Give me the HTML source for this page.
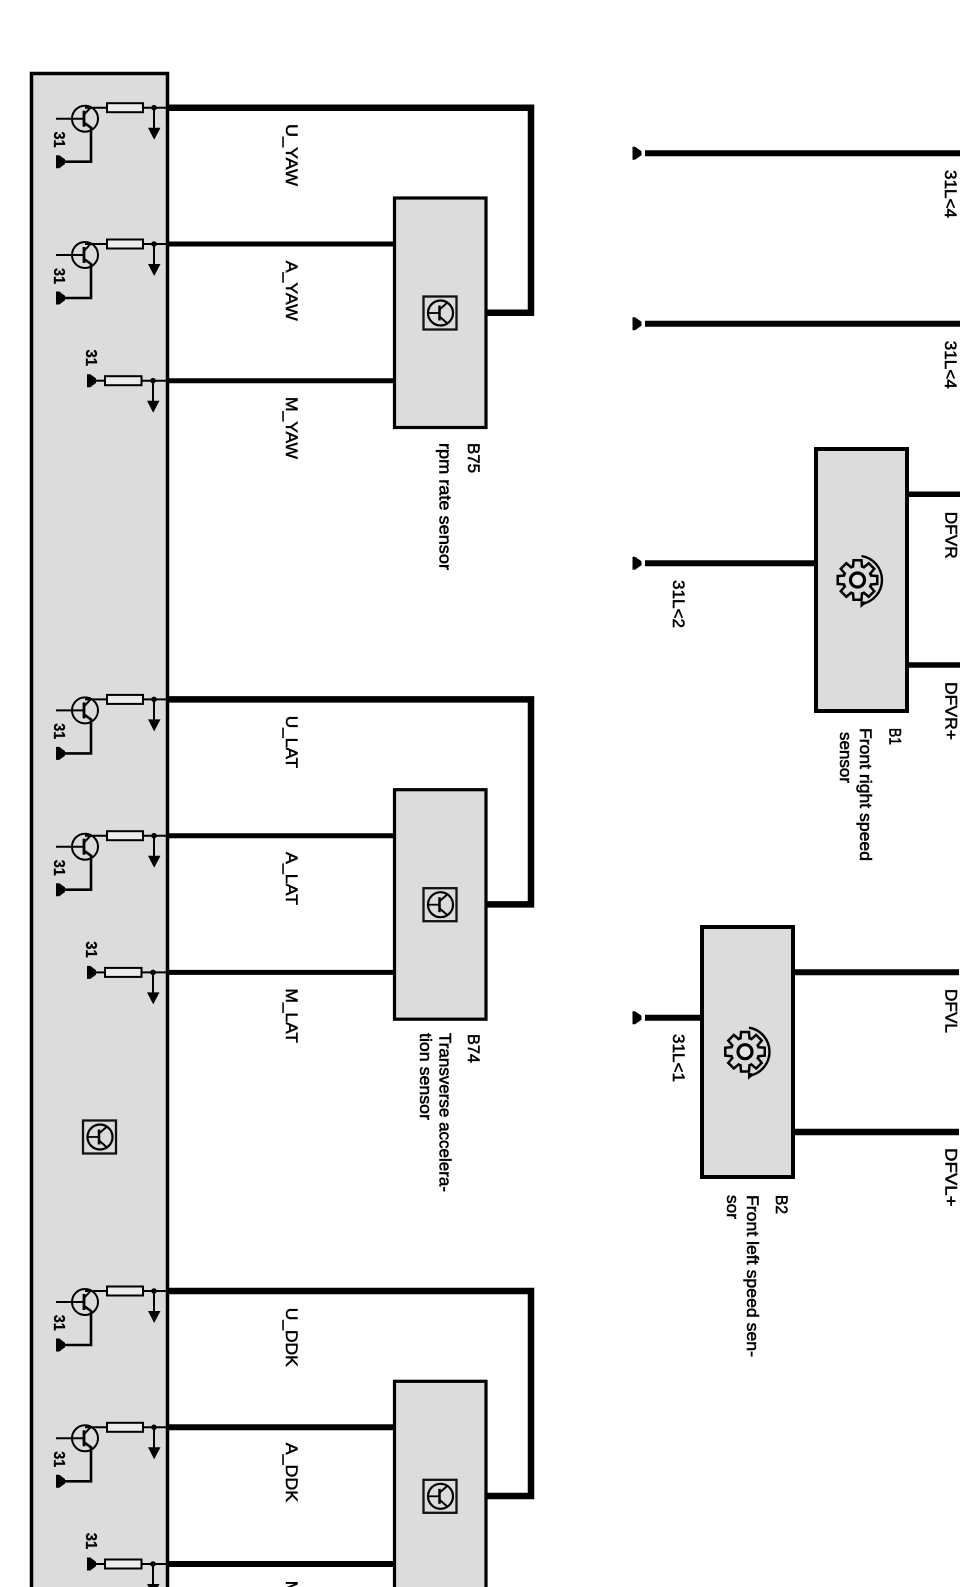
<!DOCTYPE html>
<html>
<head>
<meta charset="utf-8">
<style>
html,body{margin:0;padding:0;background:#fff}
svg{display:block}
text{font-family:"Liberation Sans",sans-serif;fill:#000}
.l{font-size:17px;stroke:#000;stroke-width:.5}
.s{font-size:17px;stroke:#000;stroke-width:.55}
.n{font-size:16px;font-weight:bold;stroke:#000;stroke-width:.3}
</style>
</head>
<body>
<svg width="960" height="1587" viewBox="0 0 960 1587" xmlns="http://www.w3.org/2000/svg">
<defs>
<g id="gnd"><path d="M0-6.500V6.500H2.500L9 2V-2L2.500-6.500Z" fill="#000"/></g>
<g id="gnds"><path d="M0-5.500V5.500H2L7 1.800V-1.800L2-5.500Z" fill="#000"/></g>
<g id="drop" fill="none" stroke="#000" stroke-width="2">
  <circle cx="154" cy="0" r="2.800" fill="#000" stroke="none"/>
  <line x1="154" y1="0" x2="154" y2="22"/>
  <path d="M148 20H160.500L154.200 32Z" fill="#000" stroke="none"/>
</g>
<g id="trow" fill="none" stroke="#000" stroke-width="2">
  <circle cx="85" cy="11" r="13"/>
  <line x1="56" y1="11" x2="84" y2="11"/>
  <line x1="84" y1="3" x2="84" y2="19" stroke-width="2.800"/>
  <path d="M84 7L91 -0.500"/>
  <line x1="85" y1="0" x2="107" y2="0"/>
  <path d="M84 15L91 20V54H62" stroke-width="2.600"/>
  <rect x="107" y="-4.500" width="36" height="9" fill="#ececec"/>
  <line x1="143" y1="0" x2="168" y2="0"/>
  <use href="#drop"/>
  <use href="#gnds" x="57" y="54"/>
</g>
<g id="mrow" fill="none" stroke="#000" stroke-width="2">
  <line x1="92" y1="0" x2="105" y2="0"/>
  <rect x="105" y="-4.500" width="36.500" height="9" fill="#ececec"/>
  <line x1="141" y1="0" x2="168" y2="0"/>
  <use href="#drop" x="-1"/>
  <use href="#gnds" x="88" y="0"/>
</g>
<g id="icon" fill="none" stroke="#000">
  <rect x="0" y="0" width="33" height="33" stroke-width="2.300" stroke="#111"/>
  <circle cx="17" cy="16.500" r="12.500" stroke-width="2.200"/>
  <line x1="4" y1="16.500" x2="16" y2="16.500" stroke-width="1.800"/>
  <line x1="16" y1="9" x2="16" y2="24" stroke-width="2.500"/>
  <path d="M16 13L24 6M16 20L24 27" stroke-width="2"/>
</g>
<polygon id="tooth" points="12.600,-3.300 18.500,-2.800 18.500,2.800 12.600,3.300"/>
<g id="gearshape">
  <circle r="13"/>
  <use href="#tooth"/>
  <use href="#tooth" transform="rotate(45)"/>
  <use href="#tooth" transform="rotate(90)"/>
  <use href="#tooth" transform="rotate(135)"/>
  <use href="#tooth" transform="rotate(180)"/>
  <use href="#tooth" transform="rotate(225)"/>
  <use href="#tooth" transform="rotate(270)"/>
  <use href="#tooth" transform="rotate(315)"/>
</g>
<g id="gear">
  <use href="#gearshape" fill="#000" stroke="#000" stroke-width="5"/>
  <use href="#gearshape" fill="#dcdcdc"/>
  <circle r="7" fill="#e6e6e6" stroke="#000" stroke-width="3.200"/>
  <path d="M4 -24A24.300 24.300 0 0 1 4 24" fill="none" stroke="#000" stroke-width="2.400"/>
  <path d="M3 28L3 21L10 22Z" fill="#000"/>
</g>
<g id="block">
  <use href="#trow" y="107.700"/>
  <use href="#trow" y="244"/>
  <use href="#mrow" y="380.700"/>
  <rect x="394.500" y="198" width="91.500" height="229.500" fill="#dcdcdc" stroke="#000" stroke-width="3.200"/>
  <use href="#icon" x="423.500" y="296.500"/>
  <path d="M169 107.700H531V312.700H487" fill="none" stroke="#000" stroke-width="6.500"/>
</g>
</defs>

<rect x="0" y="0" width="960" height="1587" fill="#fff"/>

<rect x="31.500" y="73.500" width="136" height="1530" fill="#dcdcdc" stroke="#000" stroke-width="3.500"/>

<use href="#block"/>
<line x1="169" y1="244" x2="396" y2="244" stroke="#000" stroke-width="5"/>
<line x1="169" y1="380.700" x2="396" y2="380.700" stroke="#000" stroke-width="5"/>

<use href="#block" y="591.700"/>
<line x1="169" y1="835.700" x2="396" y2="835.700" stroke="#000" stroke-width="5"/>
<line x1="169" y1="972.400" x2="396" y2="972.400" stroke="#000" stroke-width="5"/>

<use href="#block" y="1183.300"/>
<line x1="169" y1="1427.300" x2="396" y2="1427.300" stroke="#000" stroke-width="6"/>
<line x1="169" y1="1564" x2="396" y2="1564" stroke="#000" stroke-width="6"/>

<use href="#icon" x="83" y="1120.500"/>

<g>
<text class="n" transform="translate(54,131.500) rotate(90)" textLength="16" lengthAdjust="spacingAndGlyphs">31</text>
<text class="n" transform="translate(54,268) rotate(90)" textLength="16" lengthAdjust="spacingAndGlyphs">31</text>
<text class="n" transform="translate(86,349.500) rotate(90)" textLength="16.500" lengthAdjust="spacingAndGlyphs">31</text>
<text class="n" transform="translate(54,723.200) rotate(90)" textLength="16" lengthAdjust="spacingAndGlyphs">31</text>
<text class="n" transform="translate(54,859.700) rotate(90)" textLength="16" lengthAdjust="spacingAndGlyphs">31</text>
<text class="n" transform="translate(86,941.200) rotate(90)" textLength="16.500" lengthAdjust="spacingAndGlyphs">31</text>
<text class="n" transform="translate(54,1314.800) rotate(90)" textLength="16" lengthAdjust="spacingAndGlyphs">31</text>
<text class="n" transform="translate(54,1451.300) rotate(90)" textLength="16" lengthAdjust="spacingAndGlyphs">31</text>
<text class="n" transform="translate(86,1532.800) rotate(90)" textLength="16.500" lengthAdjust="spacingAndGlyphs">31</text>
</g>

<g>
<text class="l" transform="translate(286,124) rotate(90)" textLength="62" lengthAdjust="spacingAndGlyphs">U_YAW</text>
<text class="l" transform="translate(286,260.700) rotate(90)" textLength="60" lengthAdjust="spacingAndGlyphs">A_YAW</text>
<text class="l" transform="translate(286,397) rotate(90)" textLength="62" lengthAdjust="spacingAndGlyphs">M_YAW</text>
<text class="l" transform="translate(286,715.700) rotate(90)" textLength="52.500" lengthAdjust="spacingAndGlyphs">U_LAT</text>
<text class="l" transform="translate(286,852) rotate(90)" textLength="53" lengthAdjust="spacingAndGlyphs">A_LAT</text>
<text class="l" transform="translate(286,988.500) rotate(90)" textLength="54.500" lengthAdjust="spacingAndGlyphs">M_LAT</text>
<text class="l" transform="translate(286,1307.700) rotate(90)" textLength="59" lengthAdjust="spacingAndGlyphs">U_DDK</text>
<text class="l" transform="translate(286,1442.700) rotate(90)" textLength="59.500" lengthAdjust="spacingAndGlyphs">A_DDK</text>
<text class="l" transform="translate(286,1580.700) rotate(90)" textLength="62" lengthAdjust="spacingAndGlyphs">M_DDK</text>

<text class="s" transform="translate(468,443) rotate(90)" textLength="30" lengthAdjust="spacingAndGlyphs">B75</text>
<text class="s" transform="translate(439.500,443) rotate(90)" textLength="127" lengthAdjust="spacingAndGlyphs">rpm  rate sensor</text>
<text class="s" transform="translate(468,1034) rotate(90)" textLength="29" lengthAdjust="spacingAndGlyphs">B74</text>
<text class="s" transform="translate(439.500,1033) rotate(90)" textLength="159" lengthAdjust="spacingAndGlyphs">Transverse accelera-</text>
<text class="s" transform="translate(420,1033) rotate(90)" textLength="87" lengthAdjust="spacingAndGlyphs">tion sensor</text>
</g>

<g stroke="#000" stroke-width="6" fill="none">
<line x1="645" y1="153.300" x2="960" y2="153.300"/>
<line x1="645" y1="323.700" x2="960" y2="323.700"/>
<line x1="645" y1="563.300" x2="816" y2="563.300"/>
<line x1="645" y1="1017.700" x2="702" y2="1017.700"/>
<line x1="906" y1="494.300" x2="960" y2="494.300" stroke-width="5.500"/>
<line x1="906" y1="665" x2="960" y2="665" stroke-width="5.500"/>
<line x1="793" y1="972.300" x2="959" y2="972.300"/>
<line x1="793" y1="1132" x2="959" y2="1132" stroke-width="6.500"/>
</g>
<use href="#gnd" x="632.500" y="153.300"/>
<use href="#gnd" x="632.500" y="323.700"/>
<use href="#gnd" x="632.500" y="563.300"/>
<use href="#gnd" x="632.500" y="1017.700"/>

<rect x="816" y="449" width="91" height="262" fill="#dcdcdc" stroke="#000" stroke-width="4"/>
<rect x="702" y="927" width="91" height="250" fill="#dcdcdc" stroke="#000" stroke-width="4"/>
<use href="#gear" x="857.500" y="580"/>
<use href="#gear" x="745" y="1051.700"/>

<g>
<text class="s" transform="translate(945,170) rotate(90)" textLength="48" lengthAdjust="spacingAndGlyphs">31L&lt;4</text>
<text class="s" transform="translate(945,340.700) rotate(90)" textLength="48" lengthAdjust="spacingAndGlyphs">31L&lt;4</text>
<text class="s" transform="translate(673,580) rotate(90)" textLength="48" lengthAdjust="spacingAndGlyphs">31L&lt;2</text>
<text class="s" transform="translate(673,1034) rotate(90)" textLength="48" lengthAdjust="spacingAndGlyphs">31L&lt;1</text>
<text class="s" transform="translate(945.500,511.700) rotate(90)" textLength="47" lengthAdjust="spacingAndGlyphs">DFVR</text>
<text class="s" transform="translate(945.500,682) rotate(90)" textLength="58" lengthAdjust="spacingAndGlyphs">DFVR+</text>
<text class="s" transform="translate(945.500,989) rotate(90)" textLength="44" lengthAdjust="spacingAndGlyphs">DFVL</text>
<text class="s" transform="translate(945.500,1148) rotate(90)" textLength="58.500" lengthAdjust="spacingAndGlyphs">DFVL+</text>
<text class="s" transform="translate(889.500,728) rotate(90)" textLength="17" lengthAdjust="spacingAndGlyphs">B1</text>
<text class="s" transform="translate(860,728) rotate(90)" textLength="133" lengthAdjust="spacingAndGlyphs">Front right speed</text>
<text class="s" transform="translate(840,732) rotate(90)" textLength="51" lengthAdjust="spacingAndGlyphs">sensor</text>
<text class="s" transform="translate(776,1195) rotate(90)" textLength="19" lengthAdjust="spacingAndGlyphs">B2</text>
<text class="s" transform="translate(747,1195) rotate(90)" textLength="162" lengthAdjust="spacingAndGlyphs">Front left speed sen-</text>
<text class="s" transform="translate(727,1195) rotate(90)" textLength="24" lengthAdjust="spacingAndGlyphs">sor</text>
</g>
</svg>
</body>
</html>
